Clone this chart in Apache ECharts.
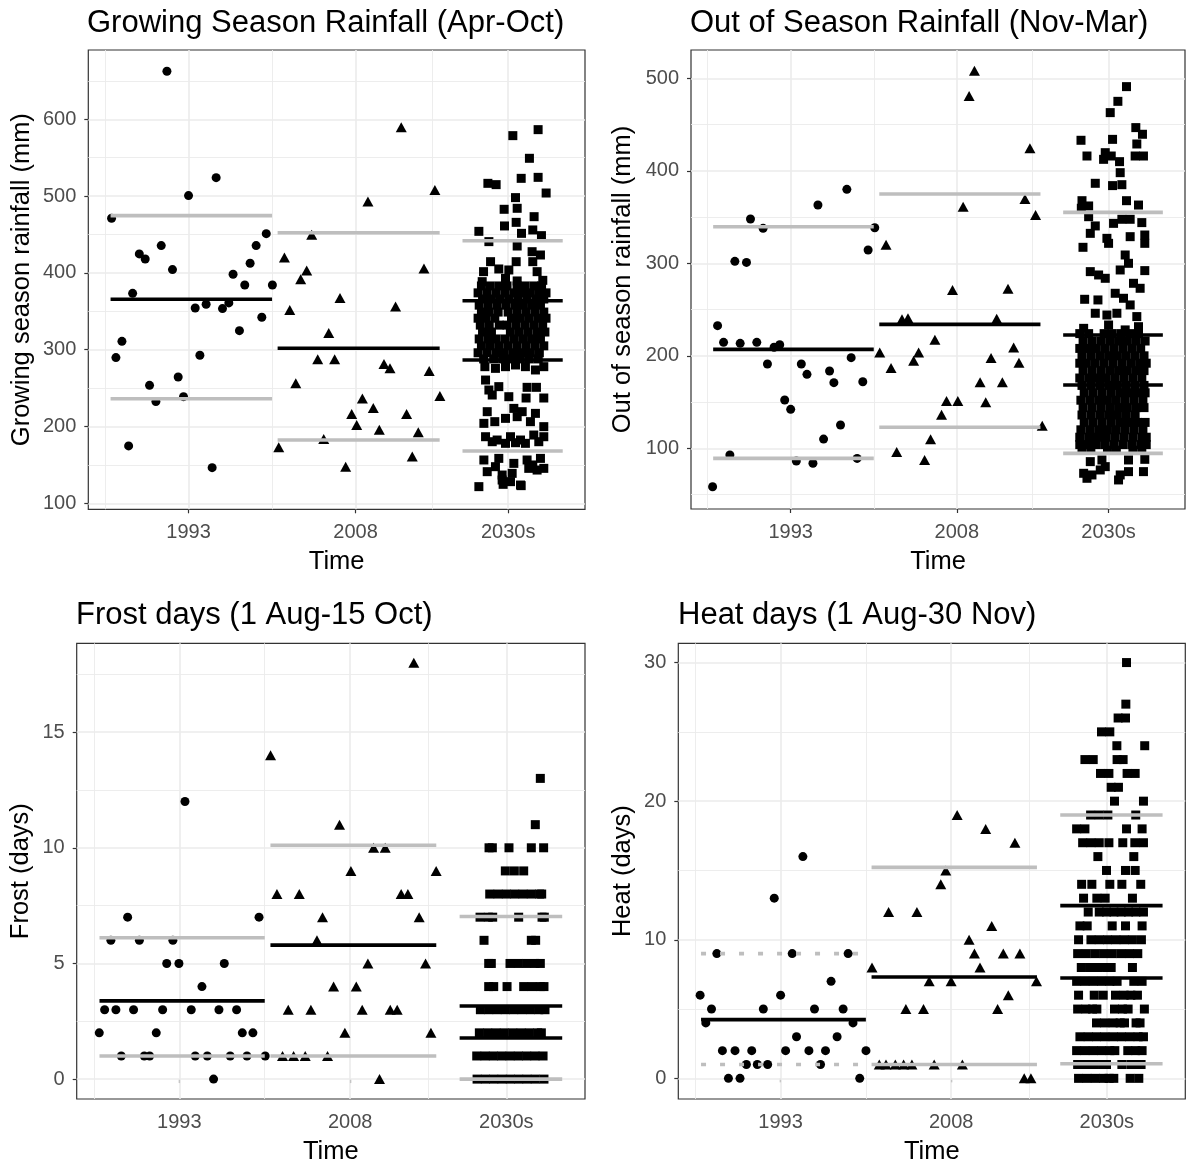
<!DOCTYPE html>
<html>
<head>
<meta charset="utf-8">
<script src="https://cdn.jsdelivr.net/npm/echarts@6/dist/echarts.min.js"></script>
<style>
  html, body { margin: 0; padding: 0; background: #fff; }
  #chart { width: 1186px; height: 1166px; }
</style>
</head>
<body>
<div id="chart"></div>
<script>
// x axis: time, groups are plotted around their period
const xBreaks = [1993, 2008, 2021.7]
const xLabels = ['1993', '2008', '2030s']
const xMinor = [1985.5, 2000.5, 2014.85]
const groupSpans = [[1986.0, 2000.5], [2001.0, 2015.55], [2017.6, 2026.6]]

// ---- Growing season rainfall (mm)
const gsr1993 = [[1991.06,662.5],[1995.48,524.0],[1993.0,500.6],[1986.09,471.1],[1999.98,451.1],[1999.07,435.5],[1988.58,424.7],[1989.11,418.1],[1990.55,435.5],[1998.53,412.5],[1991.56,404.3],[1997.0,398.2],[1998.05,384.3],[2000.53,384.3],[1987.98,373.4],[1993.6,354.3],[1994.58,359.1],[1996.05,353.5],[1996.62,360.9],[1999.58,342.2],[1997.57,324.8],[1987.02,310.9],[1986.48,289.7],[1994.02,292.7],[1989.5,253.6],[1992.07,264.5],[1990.07,232.4],[1992.55,238.9],[1987.62,174.7],[1995.12,146.4]]
const gsr2008 = [[2012.1,589.6],[2015.12,508.0],[2009.11,492.8],[2004.06,449.8],[2001.61,419.9],[2014.14,405.6],[2003.61,403.0],[2003.07,391.7],[2006.6,367.4],[2011.59,356.1],[2002.09,351.7],[2005.59,321.8],[2004.6,287.5],[2006.12,287.5],[2010.55,281.4],[2011.09,275.8],[2014.61,272.3],[2002.63,256.3],[2015.57,239.8],[2008.61,236.3],[2009.59,224.1],[2007.65,216.3],[2012.58,216.3],[2008.1,202.0],[2010.13,195.9],[2013.63,192.4],[2005.14,183.7],[2001.1,172.9],[2013.09,160.8],[2007.11,147.7]]
const gsr2030 = [[2024.39,586.5],[2022.12,578.7],[2023.61,549.2],[2019.88,516.6],[2020.62,514.9],[2022.87,523.1],[2024.39,524.4],[2025.11,504.0],[2022.36,498.0],[2021.34,482.8],[2022.51,484.1],[2024.03,473.2],[2023.91,455.9],[2021.37,461.1],[2022.42,465.8],[2019.07,454.1],[2022.9,451.5],[2024.69,448.5],[2019.97,440.7],[2022.51,435.0],[2023.85,427.6],[2024.6,423.3],[2020.12,414.6],[2022.42,414.6],[2023.91,414.6],[2019.49,401.6],[2020.86,405.1],[2021.76,403.8],[2024.3,401.6],[2024.81,390.3],[2019.37,388.6],[2021.46,392.9],[2022.51,389.5],
  [2019.61,277.9],[2020.56,275.7],[2021.46,277.9],[2022.36,280.1],[2023.25,277.9],[2024.15,273.6],[2024.9,277.9],[2019.67,260.5],[2019.97,247.5],[2020.86,251.9],[2023.4,251.0],[2024.24,251.0],[2021.76,238.8],[2023.31,237.1],[2024.9,237.1],[2020.27,241.0],[2019.82,219.3],[2022.21,223.6],[2022.96,219.3],[2024.15,217.1],[2019.52,204.1],[2020.5,206.3],[2021.46,210.6],[2022.51,212.8],[2023.7,206.3],[2024.9,199.8],[2019.67,186.7],[2020.71,182.4],[2021.91,186.7],[2022.81,182.4],[2024.0,188.9],[2024.9,186.7],[2020.27,180.2],[2021.46,178.1],[2022.36,178.9],[2023.25,178.1],[2024.45,180.2],[2019.52,156.4],[2020.86,158.5],[2022.21,152.0],[2023.4,156.4],[2024.6,158.5],[2019.82,141.2],[2021.16,136.8],[2022.06,139.0],[2023.55,145.5],[2024.3,143.3],[2020.56,147.7],[2021.91,128.2],[2021.16,130.3],[2019.07,121.7],[2022.81,123.8],[2024.9,145.5],[2023.91,149.9],[2021.25,124.7],[2022.87,123.0]]
// the crowded middle of the 2030s cloud, by row: [value, x positions]
const gsr2030Dense = [
  [383,[2019.3,2020.1,2020.9,2021.6,2022.5,2023.2,2024.0,2024.7]],
  [374,[2019.0,2019.8,2020.6,2021.4,2022.2,2022.9,2023.7,2024.5,2025.1]],
  [366,[2019.4,2020.2,2021.0,2021.8,2022.6,2023.4,2024.2,2024.9]],
  [358,[2019.1,2019.9,2020.7,2021.5,2022.3,2023.0,2023.8,2024.6]],
  [349,[2019.3,2020.0,2020.8,2021.7,2022.5,2023.3,2024.1,2024.9]],
  [341,[2019.0,2019.7,2020.5,2022.0,2022.8,2023.6,2024.4,2025.1]],
  [332,[2019.2,2020.0,2020.9,2021.6,2022.4,2023.2,2024.0,2024.8]],
  [323,[2019.4,2020.2,2021.9,2022.7,2023.5,2024.3,2025.0]],
  [314,[2019.1,2019.9,2020.6,2021.4,2022.2,2023.0,2023.8,2024.6]],
  [305,[2019.3,2020.1,2020.9,2021.7,2022.5,2023.3,2024.1,2024.9]],
  [296,[2019.0,2019.8,2020.6,2021.3,2022.1,2022.9,2023.7,2024.5]],
  [288,[2019.5,2020.4,2021.2,2022.0,2022.8,2023.6,2024.4]]
]
const gsrMeans = [[365.6], [301.8], [363.8, 286.6]]
const gsrBands = [[474.5, 236.2], [452.3, 182.4], [441.9, 168.1]]

// ---- Out of season rainfall (mm)
const oss1993 = [[1995.46,363.0],[1998.07,380.0],[1989.37,347.9],[1990.51,337.8],[2000.59,338.5],[1999.99,314.4],[1987.96,302.1],[1989.01,301.0],[1986.4,232.6],[1986.94,214.6],[1988.44,213.5],[1989.94,214.6],[1991.5,209.2],[1992.01,212.0],[1998.46,198.0],[1990.9,191.1],[1993.96,191.1],[1994.47,180.0],[1996.51,183.6],[1996.9,171.0],[1999.51,172.0],[1992.46,152.2],[1993.0,142.1],[1997.5,125.2],[1995.97,110.0],[1987.51,92.8],[1993.51,86.3],[1995.01,83.8],[1999.0,89.1],[1985.95,58.5]]
const oss2008 = [[2009.59,508.2],[2009.11,480.9],[2014.6,424.3],[2014.15,369.5],[2008.57,361.2],[2015.11,352.2],[2001.61,320.1],[2007.61,271.1],[2012.62,272.6],[2003.05,239.4],[2003.59,240.5],[2011.6,240.1],[2006.02,217.4],[2001.04,203.7],[2004.55,203.7],[2004.1,194.7],[2013.13,209.1],[2002.06,186.8],[2011.09,197.6],[2013.61,192.6],[2010.1,171.3],[2012.11,171.3],[2007.07,151.1],[2008.09,151.1],[2010.61,149.7],[2006.62,136.4],[2015.71,124.5],[2005.63,109.7],[2002.57,96.0],[2005.09,87.4]]
const oss2030 = [[2023.32,491.0],[2022.54,475.1],[2021.85,462.9],[2024.16,446.7],[2024.76,439.5],[2019.21,433.0],[2022.06,434.0],[2024.25,429.0],[2019.75,416.0],[2021.4,419.6],[2021.25,412.4],[2021.94,416.0],[2022.69,409.9],[2024.1,416.0],[2024.85,416.0],[2022.75,398.0],[2020.5,386.5],[2022.06,384.0],[2022.9,385.0],[2019.3,367.7],[2019.9,362.0],[2023.32,367.7],[2024.4,363.0],[2019.24,359.5],[2019.9,350.4],[2022.15,343.2],[2022.9,347.6],[2023.65,347.6],[2024.7,344.0],[2020.5,340.4],[2020.05,332.4],[2021.55,327.0],[2023.65,328.8],[2024.97,330.6],[2021.7,321.6],[2024.97,321.6],[2019.39,317.3],[2023.2,309.0],[2023.5,300.0],[2022.75,292.8],[2024.97,292.1],[2020.05,291.0],[2020.8,287.4],
  [2021.4,283.8],[2023.95,278.4],[2024.55,273.0],[2019.54,261.1],[2020.74,260.4],[2022.3,267.6],[2023.05,262.2],[2023.65,255.0],[2020.5,246.0],[2021.55,244.1],[2022.45,246.0],[2024.25,242.4],[2019.45,229.7],[2021.7,233.3],[2023.2,228.0],[2024.4,231.5],
  [2020.05,85.6],[2021.1,87.4],[2023.5,87.4],[2024.97,88.1],[2019.45,73.0],[2020.2,71.2],[2020.95,76.6],[2021.4,80.2],[2022.75,71.2],[2023.5,74.8],[2024.85,74.8],[2019.75,67.6],[2022.6,65.8]]
const oss2030Dense = [
  [224,[2019.1,2019.9,2021.3,2022.0,2022.8,2023.6,2024.4]],
  [216,[2019.4,2020.2,2021.0,2021.8,2022.6,2023.4,2024.2,2025.0]],
  [208,[2019.1,2019.8,2020.6,2021.4,2022.2,2023.0,2023.8,2024.6]],
  [200,[2019.3,2020.1,2020.9,2021.7,2022.5,2023.3,2024.1,2024.9]],
  [192,[2019.1,2019.7,2020.5,2021.3,2022.1,2022.9,2023.7,2024.5,2025.1]],
  [184,[2019.4,2020.2,2021.0,2021.8,2022.6,2023.4,2024.2,2024.9]],
  [176,[2019.1,2019.9,2020.7,2021.5,2022.3,2023.1,2023.9,2024.7]],
  [168,[2019.3,2020.1,2020.9,2021.7,2022.5,2023.3,2024.1,2024.9]],
  [160,[2019.5,2020.3,2021.1,2021.9,2022.7,2023.5,2024.3,2025.0]],
  [152,[2019.2,2020.0,2020.8,2021.6,2022.4,2023.2,2024.0,2024.8]],
  [144,[2019.4,2020.2,2021.0,2021.8,2022.6,2023.4,2024.2,2024.9]],
  [136,[2019.3,2020.1,2020.9,2021.7,2022.5,2023.3,2024.1]],
  [128,[2019.5,2020.3,2021.1,2021.9,2022.7,2023.5,2024.3,2025.0]],
  [120,[2019.2,2020.0,2020.8,2021.6,2022.4,2023.2,2024.0,2024.8]],
  [112,[2019.1,2019.9,2020.7,2021.5,2022.3,2023.1,2023.9,2024.7,2025.1]],
  [104,[2019.1,2019.8,2020.6,2021.4,2022.2,2023.0,2023.8,2024.6,2025.1]],
  [98,[2019.3,2020.1,2021.6,2022.4,2023.9,2024.7]]
]
const ossMeans = [[207.0], [234.0], [222.5, 168.4]]
const ossBands = [[339.6, 89.1], [374.9, 122.7], [355.1, 94.5]]

// ---- Frost days
const frost1993 = [[1993.5,12],[1988.47,7],[2000.0,7],[1987.0,6],[1989.5,6],[1992.44,6],[1991.9,5],[1992.97,5],[1996.95,5],[1994.99,4],[1986.45,3],[1987.44,3],[1988.99,3],[1991.54,3],[1994.05,3],[1996.48,3],[1998.03,3],[1985.98,2],[1990.98,2],[1998.53,2],[1999.46,2],[1987.91,1],[1989.93,1],[1990.4,1],[1994.4,1],[1995.46,1],[1997.47,1],[1998.94,1],[2000.54,1],[1996.01,0]]
const frost2008 = [[2013.58,18],[2001.01,14],[2007.06,11],[2010.05,10],[2011.07,10],[2008.06,9],[2015.54,9],[2001.57,8],[2003.53,8],[2012.47,8],[2013.06,8],[2005.57,7],[2014.05,7],[2005.08,6],[2009.55,5],[2014.61,5],[2006.54,4],[2008.53,4],[2002.56,3],[2004.55,3],[2009.05,3],[2011.51,3],[2012.12,3],[2007.53,2],[2015.08,2],[2002.06,1],[2003.03,1],[2004.05,1],[2006.01,1],[2010.57,0]]
const frost2030 = [
  [13,[2024.68]],
  [11,[2024.24]],
  [10,[2020.18,2020.47,2021.93,2023.89,2024.97]],
  [9,[2021.61,2022.4,2023.22]],
  [8,[2020.24,2020.97,2021.7,2022.43,2023.16,2023.89,2024.62,2024.8]],
  [7,[2019.39,2020.12,2020.5,2022.78,2024.83,2025.03]],
  [6,[2019.74,2023.89,2024.27]],
  [5,[2020.15,2020.38,2022.02,2022.75,2023.48,2024.21,2024.68]],
  [4,[2020.15,2020.59,2021.76,2023.22,2023.95,2024.68,2025.0]],
  [3,[2019.42,2020.15,2020.88,2021.61,2022.34,2023.07,2023.81,2024.54,2025.09]],
  [2,[2019.33,2020.06,2020.79,2021.52,2022.26,2022.99,2023.72,2024.45,2024.77]],
  [1,[2019.1,2019.83,2020.56,2021.29,2022.02,2022.75,2023.48,2024.21,2024.92]],
  [0,[2019.13,2019.86,2020.59,2021.32,2022.05,2022.78,2023.51,2024.24,2025.0]]
]
const frostMeans = [[3.38], [5.79], [3.16, 1.78]]
const frostBands = [[6.11, 1.0], [10.11, 1.0], [7.03, 0.0]]

// ---- Heat days
const heat1993 = [[1994.96,16],[1992.44,13],[1987.39,9],[1994.02,9],[1998.94,9],[1997.44,7],[1985.92,6],[1993.0,6],[1986.92,5],[1991.48,5],[1995.98,5],[1998.5,5],[1986.42,4],[1999.37,4],[1994.4,3],[1997.97,3],[1987.88,2],[1988.99,2],[1990.46,2],[1993.44,2],[1995.49,2],[1996.95,2],[2000.51,2],[1989.99,1],[1990.95,1],[1991.86,1],[1996.51,1],[1988.41,0],[1989.43,0],[1999.96,0]]
const heat2008 = [[2008.53,19],[2011.04,18],[2013.61,17],[2007.53,15],[2007.09,14],[2002.5,12],[2004.99,12],[2011.57,11],[2009.58,10],[2010.05,9],[2012.59,9],[2014.05,9],[2001.04,8],[2010.54,8],[2006.07,7],[2008.0,7],[2015.51,7],[2013.03,6],[2004.02,5],[2005.57,5],[2012.09,5],[2001.68,1],[2002.27,1],[2003.09,1],[2003.82,1],[2004.55,1],[2006.51,1],[2008.99,1],[2014.43,0],[2015.02,0]]
const heat2030 = [
  [30,[2023.43]],
  [27,[2023.37]],
  [26,[2022.69,2023.34]],
  [25,[2021.23,2021.96]],
  [24,[2022.58,2025.03]],
  [23,[2019.77,2020.5,2022.6,2023.13]],
  [22,[2021.14,2021.88,2023.48,2024.19]],
  [21,[2022.08,2022.72]],
  [20,[2022.37,2024.92]],
  [19,[2020.27,2021.03,2021.79,2024.24]],
  [18,[2019.04,2019.77,2023.43,2024.8]],
  [17,[2019.57,2020.3,2021.03,2021.88,2023.1,2024.16,2024.92]],
  [16,[2020.91,2024.07]],
  [15,[2021.67,2023.34,2024.19]],
  [14,[2019.48,2020.38,2021.96,2023.02,2024.68]],
  [13,[2019.65,2020.82,2021.55,2023.95]],
  [12,[2020.06,2021.03,2021.67,2022.32,2022.96,2023.6,2024.25,2024.92]],
  [11,[2019.33,2019.97,2022.17,2023.34,2024.8]],
  [10,[2019.21,2020.3,2021.03,2021.76,2022.49,2023.22,2023.95,2024.74]],
  [9,[2019.13,2019.89,2020.65,2021.41,2022.17,2022.93,2023.69,2024.42]],
  [8,[2019.45,2020.18,2020.91,2021.67,2022.08,2023.95]],
  [7,[2019.04,2019.77,2020.5,2021.23,2021.96,2022.6,2024.07,2024.8]],
  [6,[2019.21,2020.59,2021.38,2022.46,2023.22,2023.81,2024.39]],
  [5,[2019.13,2019.86,2020.44,2020.82,2022.37,2023.07,2023.57,2025.0]],
  [4,[2020.79,2021.52,2022.26,2022.87,2023.25,2024.27,2024.62]],
  [3,[2019.33,2020.06,2020.79,2021.52,2022.26,2022.99,2023.72,2024.45,2024.92]],
  [2,[2019.04,2019.77,2020.5,2021.23,2021.96,2022.4,2023.54,2024.24,2024.8]],
  [1,[2019.13,2019.86,2020.59,2021.32,2021.67,2023.02,2023.81,2024.27,2024.71]],
  [0,[2019.21,2019.95,2020.68,2021.41,2021.9,2022.31,2023.75,2024.51]]
]
const heatMeans = [[4.24], [7.31], [12.46, 7.24]]
const heatBands = [[9.0, 1.0], [15.22, 1.0], [19.0, 1.05]]

function fromRows(rows) {
  let out = []
  rows.forEach(([v, xs]) => xs.forEach((x) => out.push([x, v])))
  return out
}

const FONT = '"Liberation Sans", Arial, sans-serif'
const GRID_COLOR = '#EBEBEB'
const BAND_COLOR = '#BEBEBE'

let panels = [
  {
    title: 'Growing Season Rainfall (Apr-Oct)',
    yName: 'Growing season rainfall (mm)',
    rect: { left: 88.3, top: 50, width: 496.7, height: 459.3 },
    titlePos: { left: 87, top: 8 },
    yMin: 92.2, yMax: 690.2,
    yTicks: [100, 200, 300, 400, 500, 600],
    yMinor: [150, 250, 350, 450, 550, 650],
    nameGap: 53,
    groups: [gsr1993, gsr2008, gsr2030.concat(fromRows(gsr2030Dense))],
    means: gsrMeans, bands: gsrBands, dottedFirst: false,
  },
  {
    title: 'Out of Season Rainfall (Nov-Mar)',
    yName: 'Out of season rainfall (mm)',
    rect: { left: 691, top: 50, width: 494, height: 459 },
    titlePos: { left: 690, top: 8 },
    yMin: 34.4, yMax: 530.6,
    yTicks: [100, 200, 300, 400, 500],
    yMinor: [50, 150, 250, 350, 450],
    nameGap: 55,
    groups: [oss1993, oss2008, oss2030.concat(fromRows(oss2030Dense))],
    means: ossMeans, bands: ossBands, dottedFirst: false,
  },
  {
    title: 'Frost days (1 Aug-15 Oct)',
    yName: 'Frost (days)',
    rect: { left: 76.7, top: 643.3, width: 508.3, height: 456.7 },
    titlePos: { left: 76, top: 600 },
    yMin: -0.86, yMax: 18.84,
    yTicks: [0, 5, 10, 15],
    yMinor: [2.5, 7.5, 12.5, 17.5],
    nameGap: 43,
    groups: [frost1993, frost2008, fromRows(frost2030)],
    means: frostMeans, bands: frostBands, dottedFirst: false,
  },
  {
    title: 'Heat days (1 Aug-30 Nov)',
    yName: 'Heat (days)',
    rect: { left: 678.3, top: 643.3, width: 507, height: 457.4 },
    titlePos: { left: 678, top: 600 },
    yMin: -1.49, yMax: 31.39,
    yTicks: [0, 10, 20, 30],
    yMinor: [5, 15, 25],
    nameGap: 42,
    groups: [heat1993, heat2008, fromRows(heat2030)],
    means: heatMeans, bands: heatBands, dottedFirst: true,
  },
]

const symbols = [
  { symbol: 'circle', size: 9 },
  { symbol: 'triangle', size: [11, 10] },
  { symbol: 'rect', size: 9 },
]

let chart = echarts.init(document.getElementById('chart'), null, { renderer: 'canvas' })

let titles = []
let grids = []
let xAxes = []
let yAxes = []
let series = []

panels.forEach((p, i) => {
  titles.push({
    text: p.title,
    left: p.titlePos.left,
    top: p.titlePos.top,
    padding: 0,
    textStyle: { fontFamily: FONT, fontSize: 31, fontWeight: 'normal', color: '#000' },
  })
  grids.push({
    ...p.rect,
    show: true,
    borderColor: '#333333',
    borderWidth: 1.2,
    backgroundColor: '#fff',
    containLabel: false,
  })
  xAxes.push({
    type: 'value',
    gridIndex: i,
    min: 1984.0,
    max: 2028.6,
    name: 'Time',
    nameLocation: 'middle',
    nameGap: 40,
    nameTextStyle: { fontFamily: FONT, fontSize: 25.5, color: '#000' },
    axisLine: { show: false },
    axisTick: { show: true, length: 4, customValues: xBreaks, lineStyle: { color: '#333333', width: 1.2 } },
    axisLabel: {
      customValues: xBreaks,
      margin: 13,
      fontFamily: FONT,
      fontSize: 20,
      color: '#4D4D4D',
      formatter: (v) => {
        let k = xBreaks.findIndex((b) => Math.abs(b - v) < 1e-6)
        return k >= 0 ? xLabels[k] : ''
      },
    },
    splitLine: { show: false },
  })
  yAxes.push({
    type: 'value',
    gridIndex: i,
    min: p.yMin,
    max: p.yMax,
    name: p.yName,
    nameLocation: 'middle',
    nameRotate: 90,
    nameGap: p.nameGap,
    nameTextStyle: { fontFamily: FONT, fontSize: 25.5, color: '#000' },
    axisLine: { show: false },
    axisTick: { show: true, length: 4, customValues: p.yTicks, lineStyle: { color: '#333333', width: 1.2 } },
    axisLabel: {
      customValues: p.yTicks,
      margin: 12,
      fontFamily: FONT,
      fontSize: 20,
      color: '#4D4D4D',
    },
    splitLine: { show: false },
  })

  // panel grid lines (ggplot theme_bw look), kept under the points
  let major = { color: GRID_COLOR, width: 1.6, type: 'solid' }
  let minor = { color: GRID_COLOR, width: 0.9, type: 'solid' }
  series.push({
    type: 'scatter',
    xAxisIndex: i,
    yAxisIndex: i,
    data: [],
    z: 1,
    silent: true,
    markLine: {
      z: 1,
      silent: true,
      animation: false,
      symbol: ['none', 'none'],
      label: { show: false },
      emphasis: { disabled: true },
      data: [
        ...p.yMinor.map((v) => ({ yAxis: v, lineStyle: minor })),
        ...xMinor.map((v) => ({ xAxis: v, lineStyle: minor })),
        ...p.yTicks.map((v) => ({ yAxis: v, lineStyle: major })),
        ...xBreaks.map((v) => ({ xAxis: v, lineStyle: major })),
      ],
    },
  })

  // points
  p.groups.forEach((g, k) => {
    series.push({
      type: 'scatter',
      xAxisIndex: i,
      yAxisIndex: i,
      symbol: symbols[k].symbol,
      symbolSize: symbols[k].size,
      itemStyle: { color: '#000', opacity: 1 },
      silent: true,
      z: 6,
      data: g,
    })
  })

  // quantile (grey) and mean (black) segments
  groupSpans.forEach((span, k) => {
    p.bands[k].forEach((y) => {
      series.push({
        type: 'line',
        xAxisIndex: i,
        yAxisIndex: i,
        data: [[span[0], y], [span[1], y]],
        symbol: 'none',
        silent: true,
        z: 7,
        lineStyle: {
          color: BAND_COLOR,
          width: 3.6,
          type: p.dottedFirst && k === 0 ? [5, 14] : 'solid',
          cap: 'butt',
        },
      })
    })
    p.means[k].forEach((y) => {
      series.push({
        type: 'line',
        xAxisIndex: i,
        yAxisIndex: i,
        data: [[span[0], y], [span[1], y]],
        symbol: 'none',
        silent: true,
        z: 8,
        lineStyle: { color: '#000', width: 3.6, type: 'solid', cap: 'butt' },
      })
    })
  })
})

chart.setOption({
  animation: false,
  backgroundColor: '#fff',
  title: titles,
  grid: grids,
  xAxis: xAxes,
  yAxis: yAxes,
  series: series,
})
</script>
</body>
</html>
